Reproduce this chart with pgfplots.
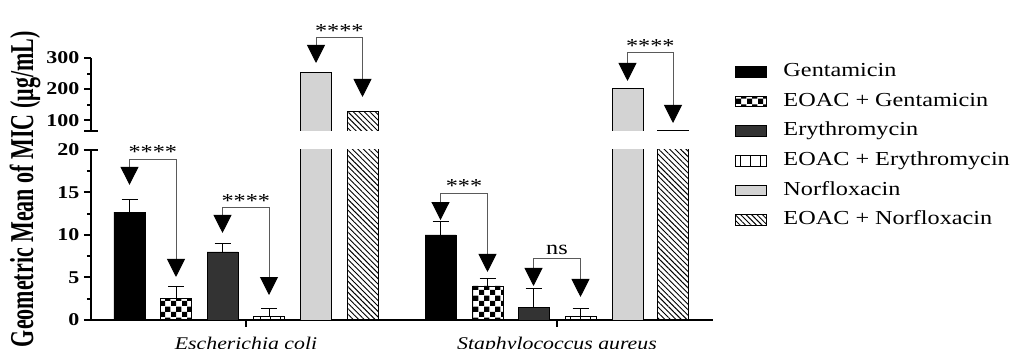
\documentclass[border=0pt]{standalone}
\usepackage{fontspec}
\setmainfont{Liberation Serif}[FakeStretch=1.22]
\newfontfamily\ylabfamily{Liberation Serif}[FakeStretch=0.66]
\usepackage{pgfplots}
\pgfplotsset{compat=1.18}
\usetikzlibrary{patterns,patterns.meta,arrows.meta}

\tikzdeclarepattern{name=mycheck, type=uncolored,
  bounding box={(0pt,0pt) and (8pt,8pt)}, tile size={(8pt,8pt)},
  code={\fill (0pt,0pt) rectangle (4pt,4pt); \fill (4pt,4pt) rectangle (8pt,8pt);}}

\definecolor{darkbar}{HTML}{333333}
\definecolor{lightbar}{HTML}{D3D3D3}
\definecolor{brkcol}{HTML}{5A5A5A}

\newcommand\tickfont{\bfseries\fontsize{13.5pt}{15pt}\selectfont}
\newcommand\legfont{\fontsize{14.9pt}{17pt}\selectfont}
\newcommand\grpfont{\itshape\fontsize{13.4pt}{15pt}\selectfont}

\tikzset{
  tri/.tip={Triangle[width=13.5pt,length=13.5pt,color=black,fill=black]},
  brk/.style={draw=brkcol, line width=0.75pt, tri-tri},
  star/.style={anchor=base, font=\legfont, inner sep=0pt, yshift=0.5pt},
}

\pgfplotsset{
  gent/.style={fill=black, draw=black, line width=0.7pt},
  egent/.style={draw=black, line width=0.7pt, pattern=mycheck, pattern color=black},
  ery/.style={fill=darkbar, draw=black, line width=0.7pt},
  eery/.style={draw=black, line width=0.7pt, pattern={Lines[angle=90,distance=7.5pt,line width=0.6pt]}, pattern color=black},
  norf/.style={fill=lightbar, draw=black, line width=0.7pt},
  enorf/.style={draw=black, line width=0.7pt, pattern={Lines[angle=-45,distance=2.9pt,line width=0.7pt]}, pattern color=black},
  eb/.style={error bars/.cd, y dir=plus, y explicit,
    error bar style={line width=0.7pt, black},
    error mark options={rotate=90, mark size=6pt, line width=0.7pt, black}},
  common/.style={
    scale only axis, width=466.5pt,
    xmin=91, xmax=713,
    ybar, bar width=31, bar shift=0,
    clip mode=individual,
    axis line style={line width=1.5pt, -},
    tick align=outside,
    major tick length=5.25pt, minor tick length=3pt,
    every tick/.style={black, line width=1.5pt},
    yticklabel style={font=\tickfont},
    /pgf/number format/assume math mode=true,
  },
}

\begin{document}
\begin{tikzpicture}
\useasboundingbox (0pt,0pt) rectangle (758.25pt,261.75pt);

% lower part of the broken axis
\begin{axis}[common,
  at={(68.25pt,21.75pt)}, anchor=south west,
  height=127.5pt,
  ymin=0, ymax=20,
  axis x line*=bottom, axis y line*=left,
  xtick={246,557},
  xticklabels={Escherichia coli, Staphylococcus aureus},
  xticklabel style={font=\grpfont, anchor=base, yshift=-17.2pt},
  ytick={0,5,10,15,20}, minor ytick={2.5,7.5,12.5,17.5},
  extra y ticks={20}, extra y tick labels={},
  extra y tick style={tick align=center, major tick length=10.5pt},
  ylabel={Geometric Mean of MIC (μg/mL)},
  every axis y label/.style={at={(axis description cs:-0.1061,0.769)}, rotate=90, anchor=center,
    font=\ylabfamily\bfseries\fontsize{25pt}{28pt}\selectfont},
  every axis plot post/.append style={legend image code/.code={\draw[##1,line width=0.7pt] (0pt,-4pt) rectangle (23.25pt,4pt);}},
  legend cell align=left,
  legend style={draw=none, fill=none, inner sep=0pt, outer sep=0pt,
    at={(axis description cs:1.0354,1.51)}, anchor=north west,
    row sep=9.2pt, column sep=12.4pt,
    nodes={inner sep=0pt, text height=10pt, text depth=3pt, font=\legfont}},
]
\addplot[gent, eb] coordinates {(129.5,12.7) +- (0,1.5) (440.5,10.0) +- (0,1.6)};
\addlegendentry{Gentamicin}
\addplot[egent, eb] coordinates {(176,2.5) +- (0,1.5) (487.5,4.0) +- (0,0.9)};
\addlegendentry{EOAC + Gentamicin}
\addplot[ery, eb] coordinates {(222.5,8.0) +- (0,1.0) (533.5,1.5) +- (0,2.25)};
\addlegendentry{Erythromycin}
\addplot[eery, eb] coordinates {(269,0.4) +- (0,1.0) (580.5,0.4) +- (0,1.0)};
\addlegendentry{EOAC + Erythromycin}
\addplot[norf] coordinates {(316,254) (627.5,202)};
\addlegendentry{Norfloxacin}
\addplot[enorf] coordinates {(362.5,128) (673,66)};
\addlegendentry{EOAC + Norfloxacin}

% significance brackets (lower part)
\draw[brk] (axis cs:129.5,15.9) |- (axis cs:176,18.9) -- (axis cs:176,5.06);
\node[star] at (axis cs:152.75,18.9) {****};
\draw[brk] (axis cs:222.5,10.24) |- (axis cs:269,13.18) -- (axis cs:269,2.94);
\node[star] at (axis cs:245.75,13.18) {****};
\draw[brk] (axis cs:440.5,11.76) |- (axis cs:487.5,14.94) -- (axis cs:487.5,5.65);
\node[star] at (axis cs:464,14.94) {***};
\draw[brk] (axis cs:533.5,4.0) |- (axis cs:580.5,7.29) -- (axis cs:580.5,2.71);
\node[star, yshift=2.5pt] at (axis cs:557,7.29) {ns};
\end{axis}

% upper part of the broken axis
\begin{axis}[common,
  at={(68.25pt,163.5pt)}, anchor=south west,
  height=54.75pt,
  ymin=65, ymax=300,
  axis y line*=left, axis x line=none,
  xtick=\empty,
  ytick={100,200,300}, minor ytick={150,250},
  extra y ticks={65}, extra y tick labels={},
  extra y tick style={tick align=center, major tick length=10.5pt},
]
\addplot[norf] coordinates {(316,254) (627.5,202)};
\addplot[enorf] coordinates {(362.5,128) (673,66)};

\draw[brk] (axis cs:316,283.9) |- (axis cs:362.5,364.4) -- (axis cs:362.5,174.5);
\node[star] at (axis cs:339.25,364.4) {****};
\draw[brk] (axis cs:627.5,226) |- (axis cs:673,316.1) -- (axis cs:673,90.75);
\node[star] at (axis cs:650.25,316.1) {****};
\end{axis}
\end{tikzpicture}
\end{document}
